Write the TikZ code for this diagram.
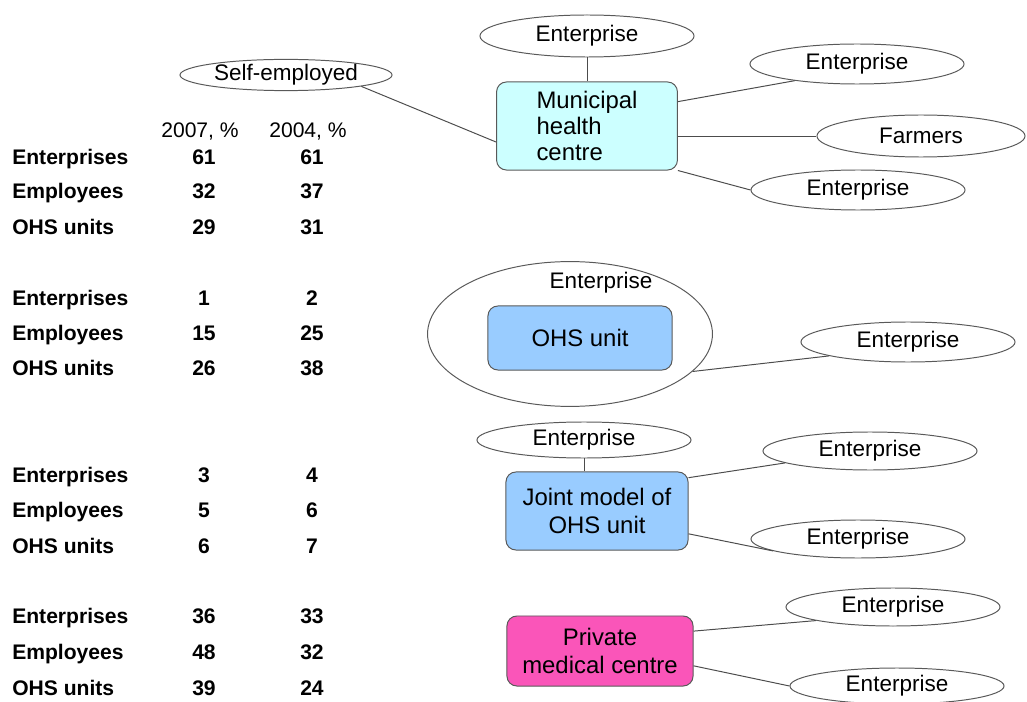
\documentclass[tikz,border=0pt]{standalone}
\usepackage{fontspec}
\setmainfont{Liberation Sans}
\usetikzlibrary{shapes.geometric}
\definecolor{muniblue}{RGB}{204,255,255}
\definecolor{ohsblue}{RGB}{153,204,255}
\definecolor{privpink}{RGB}{250,85,185}
\tikzset{
  {firm/.style} ={ellipse, draw=black!65, line width=0.7pt, inner sep=0,
                 minimum width=5.35cm, minimum height=1cm,
                 font=\fontsize{16}{19}\selectfont},
  {unitbox/.style} ={rectangle, rounded corners=7pt, draw=black!65,
                 line width=0.7pt, fill=#1, align=center,
                 font=\fontsize{17}{20}\selectfont},
  unitbox/.default = ohsblue,
  {link/.style} ={draw=black!70, line width=0.7pt},
  {rowlab/.style} ={anchor=west, inner sep=0, text height=10.7pt, text depth=0pt,
                 font=\fontsize{15}{18}\selectfont\bfseries},
  {cell/.style} ={rowlab, anchor=center},
  {head/.style} ={inner sep=0, text height=10.7pt, text depth=0pt,
                 font=\fontsize{15}{18}\selectfont},
}

\begin{document}
\begin{tikzpicture}[x=0.025cm,y=-0.025cm]
\useasboundingbox (0,0) rectangle (1027,702);
% table
\node[head] (h07) at (200,130) {2007, \%};
\node[head] (h04) at (308,130) {2004, \%};
\foreach \lab/\p/\q/\y [count=\i] in {Enterprises/61/61/157, Employees/32/37/191,
    OHS units/29/31/227, Enterprises/1/2/298, Employees/15/25/333, OHS units/26/38/368,
    Enterprises/3/4/475, Employees/5/6/510, OHS units/6/7/546,
    Enterprises/36/33/616, Employees/48/32/652, OHS units/39/24/688}
{
  \node[rowlab] (lab\i) at (12,\y) {\lab};
  \node[cell] (p\i) at (204,\y) {\p};
  \node[cell] (q\i) at (312,\y) {\q};
}
% municipal health centre
\node[unitbox=muniblue, minimum width=4.52cm, minimum height=2.2cm,
      align=left, font=\fontsize{17}{18.5}\selectfont] (muni) at (587,126)
      {Municipal\\health\\centre};
\node[firm, minimum height=1.05cm] (mtop) at (587,36) {Enterprise};
\node[firm, minimum width=5.3cm, minimum height=0.78cm] (self) at (286,75) {Self-employed};
\node[firm] (m1) at (857,64) {Enterprise};
\node[firm, minimum width=5.2cm, minimum height=1.05cm] (farm) at (921,136) {Farmers};
\node[firm] (m2) at (858,190) {Enterprise};
\path[link] (mtop) edge (muni)
        (self.south east) edge (muni.190)
        (muni.15) edge (m1.195)
        (muni.east |- farm.west) edge (farm.west)
        (muni.south east) edge (m2.west);
% OHS unit inside enterprise
\node[ellipse, draw=black!65, line width=0.7pt, minimum width=7.12cm,
      minimum height=3.62cm] (encl) at (570,334) {};
\node[font=\fontsize{16}{19}\selectfont] (enclt) at (601,283) {Enterprise};
\node[unitbox, minimum width=4.6cm, minimum height=1.6cm] (ohs) at (580,338) {OHS unit};
\node[firm] (o1) at (908,342) {Enterprise};
\path[link] (encl.-17) edge (o1.190);
% joint model
\node[unitbox, minimum width=4.55cm, minimum height=1.95cm] (joint) at (597,511)
      {Joint model of\\OHS unit};
\node[firm, minimum height=0.9cm] (jtop) at (584,440) {Enterprise};
\node[firm, minimum height=0.95cm] (j1) at (870,451) {Enterprise};
\node[firm, minimum height=0.95cm] (j2) at (858,539) {Enterprise};
\path[link] (jtop.south) edge (jtop.south |- joint.north)
        (joint.20) edge (j1.188)
        (joint.-14) edge (j2.188);
% private medical centre
\node[unitbox=privpink, minimum width=4.65cm, minimum height=1.75cm] (priv) at (600,651)
      {Private\\medical centre};
\node[firm, minimum height=0.95cm] (p1) at (893,607) {Enterprise};
\node[firm, minimum height=0.9cm] (p2) at (897,686) {Enterprise};
\path[link] (priv.12) edge (p1.190)
        (priv.-9) edge (p2.west);
\end{tikzpicture}
\end{document}
